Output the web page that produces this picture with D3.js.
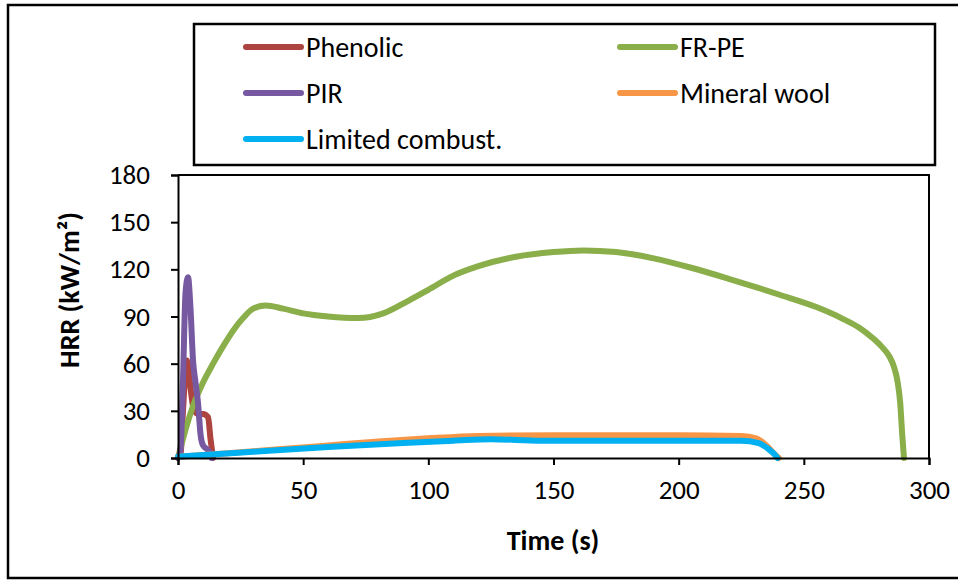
<!DOCTYPE html>
<html>
<head>
<meta charset="utf-8">
<script src="https://cdn.jsdelivr.net/npm/d3@7"></script>
<style>
  html, body { margin: 0; padding: 0; background: #fff; }
  svg { display: block; font-family: Calibri, Carlito, Lato, "Open Sans", sans-serif; }
</style>
</head>
<body>
<svg id="chart" width="958" height="581"></svg>
<script>
// Heat release rate curves for five facade insulation materials
const seriesNames = ["Phenolic", "FR-PE", "PIR", "Mineral wool", "Limited combust."];
const seriesColors = ["#AE4440", "#8AAE4A", "#7659A0", "#F79646", "#00B0F0"];

const phenolicTime = [0, 1, 2, 3, 3.6, 4.5, 5.5, 6.5, 8, 10, 12, 13, 14];
const phenolicHRR  = [0, 2, 30, 55, 62, 52, 38, 30, 28, 28, 26, 12, 0];

const frpeTime = [0, 3, 6, 10, 14, 18, 22, 26, 30, 35, 42, 50, 60, 72, 82, 92, 100, 110, 120, 135, 150, 162, 175, 190, 205, 220, 240, 255, 265, 272, 277, 281, 284, 286, 287.5, 288.5, 289.3, 290];
const frpeHRR  = [0, 18, 33, 48, 60, 71, 81, 89, 95, 97, 95, 92, 90, 89, 92, 100, 107, 116, 122, 128, 131, 132, 131, 127, 121, 114, 104, 96, 89, 83, 77, 71, 65, 58, 48, 35, 15, 0];

const pirTime = [0, 1, 2, 3, 4, 5, 6, 7, 8, 9, 10, 12, 13.5];
const pirHRR  = [0, 5, 50, 105, 115, 95, 62, 48, 35, 15, 8, 5, 0];

const woolTime = [0, 20, 40, 60, 80, 100, 120, 150, 200, 225, 231, 235, 238, 240];
const woolHRR  = [0.8, 3, 5.5, 8, 10.5, 12.5, 14, 14.5, 14.5, 14, 12.5, 8, 3, 0];

const limitedTime = [0, 30, 60, 90, 110, 125, 145, 175, 200, 225, 232, 236, 238.5, 239.5];
const limitedHRR  = [0.8, 4, 7, 9.5, 11, 12, 11, 11, 11, 11, 9.5, 5.5, 2, 0];

const xTicks = [0, 50, 100, 150, 200, 250, 300];
const yTicks = [0, 30, 60, 90, 120, 150, 180];

const svg = d3.select("#chart");

// outer frame (left, top, bottom edges)
svg.append("path")
  .attr("d", "M958,5 H8 V578 H958")
  .attr("fill", "none").attr("stroke", "#000").attr("stroke-width", 2.5);

const x = d3.scaleLinear().domain([0, 300]).range([178, 929]);
const y = d3.scaleLinear().domain([0, 180]).range([458, 175]);

// plot area border (top and right)
svg.append("path")
  .attr("d", `M${x(0)},${y(180)} H${x(300)} V${y(0)}`)
  .attr("fill", "none").attr("stroke", "#000").attr("stroke-width", 2);

const series = [
  { name: seriesNames[0], color: seriesColors[0], t: phenolicTime, v: phenolicHRR },
  { name: seriesNames[1], color: seriesColors[1], t: frpeTime, v: frpeHRR },
  { name: seriesNames[2], color: seriesColors[2], t: pirTime, v: pirHRR },
  { name: seriesNames[3], color: seriesColors[3], t: woolTime, v: woolHRR },
  { name: seriesNames[4], color: seriesColors[4], t: limitedTime, v: limitedHRR }
];

const line = d3.line()
  .x(d => x(d[0]))
  .y(d => y(d[1]))
  .curve(d3.curveMonotoneX);

svg.append("g").selectAll("path")
  .data(series)
  .join("path")
  .attr("d", s => line(s.t.map((t, i) => [t, s.v[i]])))
  .attr("fill", "none")
  .attr("stroke", s => s.color)
  .attr("stroke-width", 6)
  .attr("stroke-linejoin", "round")
  .attr("stroke-linecap", "round");

// axes
const xAxis = svg.append("g")
  .attr("transform", `translate(0,${y(0)})`)
  .call(d3.axisBottom(x).tickValues(xTicks).tickSize(7).tickPadding(15).tickFormat(d3.format("d")));
const yAxis = svg.append("g")
  .attr("transform", `translate(${x(0)},0)`)
  .call(d3.axisLeft(y).tickValues(yTicks).tickSize(7).tickPadding(21).tickFormat(d3.format("d")));

[xAxis, yAxis].forEach(g => {
  g.select(".domain").attr("stroke", "#000").attr("stroke-width", 2);
  g.selectAll(".tick line").attr("stroke", "#000").attr("stroke-width", 2);
  g.selectAll(".tick text").attr("fill", "#000").attr("font-size", 27)
    .style("font-family", "Calibri, Carlito, Lato, sans-serif");
});

// axis titles
svg.append("text")
  .attr("x", 553).attr("y", 550)
  .attr("text-anchor", "middle")
  .attr("font-size", 28).attr("font-weight", "bold")
  .text("Time (s)");

svg.append("text")
  .attr("transform", "translate(79,290) rotate(-90)")
  .attr("text-anchor", "middle")
  .attr("font-size", 28).attr("font-weight", "bold")
  .text("HRR (kW/m²)");

// legend
svg.append("rect")
  .attr("x", 194).attr("y", 24).attr("width", 741).attr("height", 141)
  .attr("fill", "#fff").attr("stroke", "#000").attr("stroke-width", 2.5);

const legendPos = [
  { lx: 246, ly: 47 },
  { lx: 620, ly: 47 },
  { lx: 246, ly: 93 },
  { lx: 620, ly: 93 },
  { lx: 246, ly: 139 }
];

const legendItems = svg.append("g").selectAll("g")
  .data(series)
  .join("g")
  .attr("transform", (s, i) => `translate(${legendPos[i].lx},${legendPos[i].ly})`);

legendItems.append("line")
  .attr("x1", 0).attr("x2", 55).attr("y1", 0).attr("y2", 0)
  .attr("stroke", s => s.color).attr("stroke-width", 6).attr("stroke-linecap", "round");

legendItems.append("text")
  .attr("x", 60).attr("y", 0).attr("dy", "0.35em")
  .attr("font-size", 28)
  .text(s => s.name);
</script>
</body>
</html>
